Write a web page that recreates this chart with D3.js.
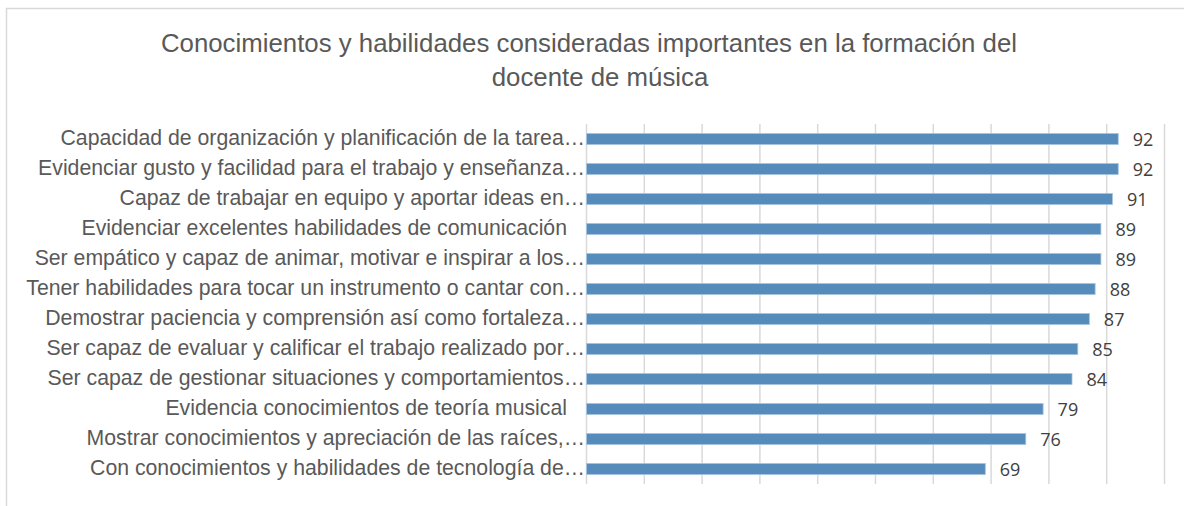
<!DOCTYPE html>
<html><head><meta charset="utf-8">
<script src="https://cdn.jsdelivr.net/npm/d3@7"></script>
<style>body{margin:0;background:#fff}svg{display:block}</style>
</head><body>
<svg id="c" width="1184" height="506"></svg>
<script>
const titleLines = ["Conocimientos y habilidades consideradas importantes en la formación del", "docente de música"];
const categories = [
  "Capacidad de organización y planificación de la tarea…",
  "Evidenciar gusto y facilidad para el trabajo y enseñanza…",
  "Capaz de trabajar en equipo y aportar ideas en…",
  "Evidenciar excelentes habilidades de comunicación",
  "Ser empático y capaz de animar, motivar e inspirar a los…",
  "Tener habilidades para tocar un instrumento o cantar con…",
  "Demostrar paciencia y comprensión así como fortaleza…",
  "Ser capaz de evaluar y calificar el trabajo realizado por…",
  "Ser capaz de gestionar situaciones y comportamientos…",
  "Evidencia conocimientos de teoría musical",
  "Mostrar conocimientos y apreciación de las raíces,…",
  "Con conocimientos y habilidades de tecnología de…"
];
const values = [92, 92, 91, 89, 89, 88, 87, 85, 84, 79, 76, 69];
const xTicks = [0,10,20,30,40,50,60,70,80,90,100];

const svg = d3.select("#c");
svg.append("rect").attr("x",6.5).attr("y",8.5).attr("width",1200).attr("height",520)
  .attr("fill","#fff").attr("stroke","#D9D9D9").attr("stroke-width",1.5);

const titleX = [589, 600];
const t = svg.append("text").attr("text-anchor","middle").attr("fill","#595959")
  .style("font-family","'Liberation Sans', Arial, sans-serif").style("font-size","25.8px");
titleLines.forEach((l,i)=>t.append("tspan").attr("x",titleX[i]).attr("y",52+i*34).text(l));

const x = d3.scaleLinear().domain([0,100]).range([586,1164]);
const y = d3.scaleBand().domain(categories).range([124,484]).paddingInner(0.63).paddingOuter(0.315);

svg.append("g").selectAll("line").data(xTicks).join("line")
  .attr("x1",d=>x(d)+0.5).attr("x2",d=>x(d)+0.5).attr("y1",124).attr("y2",484)
  .attr("stroke","#D9D9D9").attr("stroke-width",1.5);

svg.append("g").selectAll("rect").data(values).join("rect")
  .attr("x",x(0)+0.5).attr("y",(d,i)=>y(categories[i]))
  .attr("width",d=>x(d)-x(0)).attr("height",y.bandwidth())
  .attr("fill","#568CBB").attr("stroke","#A9C5E0").attr("stroke-width",0.8);

svg.append("g").selectAll("text").data(categories).join("text")
  .attr("x",d=>d.endsWith("…")?585:567).attr("y",d=>y(d)+y.bandwidth()/2)
  .attr("dy","0.28em").attr("text-anchor","end").attr("fill","#595959")
  .style("font-family","'Liberation Sans', Arial, sans-serif").style("font-size","21.25px")
  .text(d=>d);

svg.append("g").selectAll("text").data(values).join("text")
  .attr("x",d=>x(d)+15).attr("y",(d,i)=>y(categories[i])+y.bandwidth()/2+0.5)
  .attr("dy","0.35em").attr("fill","#404040")
  .style("font-family","'Open Sans', sans-serif").style("font-size","18px")
  .text(d=>d);
</script>
</body></html>
